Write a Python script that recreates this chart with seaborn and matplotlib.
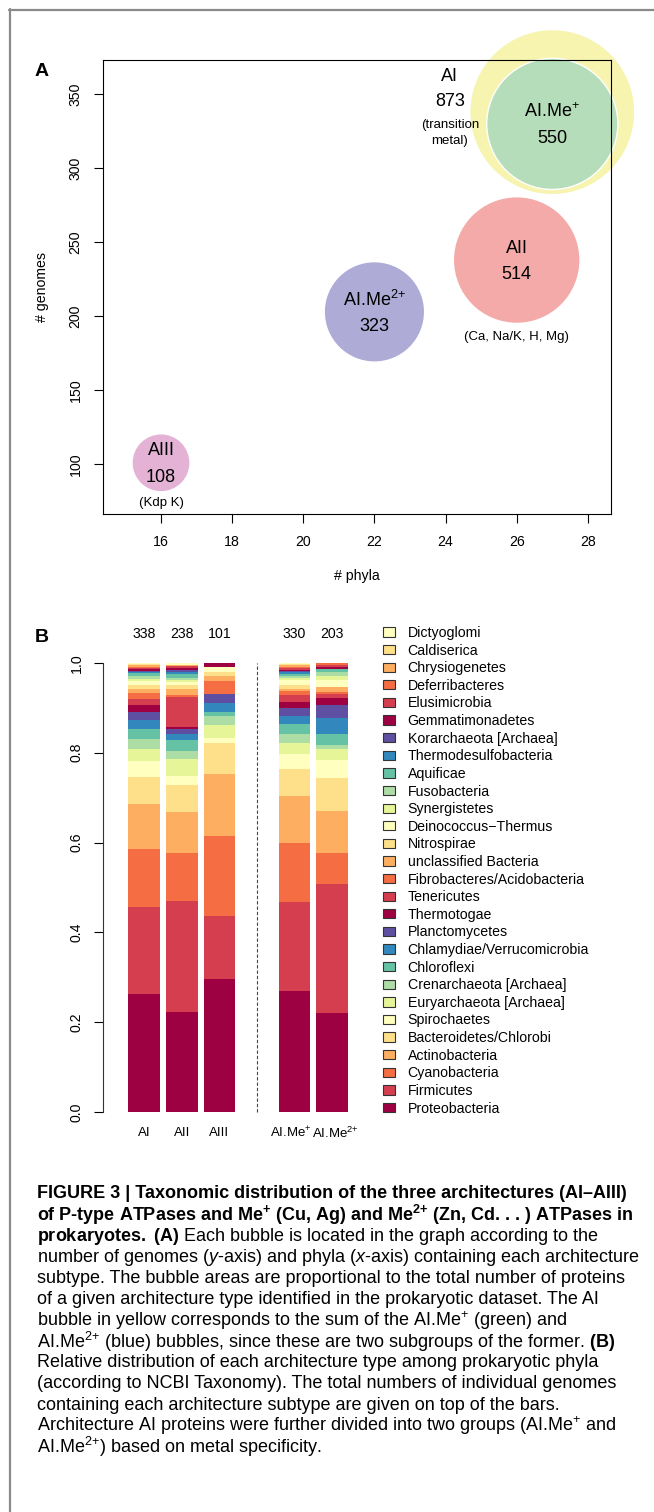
import matplotlib
matplotlib.use("Agg")
import numpy as np
import pandas as pd
import matplotlib.pyplot as plt
import seaborn as sns
from matplotlib.patches import Patch
from matplotlib.lines import Line2D

sns.set_style("ticks")
plt.rcParams["font.family"] = ["Liberation Sans", "DejaVu Sans"]
plt.rcParams["mathtext.fontset"] = "custom"
plt.rcParams["mathtext.rm"] = "Liberation Sans"
plt.rcParams["mathtext.it"] = "Liberation Sans:italic"
plt.rcParams["mathtext.bf"] = "Liberation Sans:bold"
plt.rcParams["text.color"] = "black"
plt.rcParams["axes.labelcolor"] = "black"
plt.rcParams["xtick.color"] = "black"
plt.rcParams["ytick.color"] = "black"
plt.rcParams["axes.edgecolor"] = "black"

# ---------------- panel A: architectures as bubbles ----------------
arch_keys = ["AI", "AI.Me+", "AII", "AI.Me2+", "AIII"]
arch_labels = ["AI", "AI.Me$^{+}$", "AII", "AI.Me$^{2{+}}$", "AIII"]
n_phyla = [27, 27, 26, 22, 16]
n_genomes = [338, 330, 238, 203, 101]
n_proteins = [873, 550, 514, 323, 108]
bubble_colors = ["#F7F4AF", "#B6DDB9", "#F5AAAA", "#AEACD6", "#E3B2D4"]
arch_notes = {"AI": ["(transition", "metal)"], "AII": ["(Ca, Na/K, H, Mg)"], "AIII": ["(Kdp K)"]}

# ---------------- panel B: phylum composition ----------------
phyla = ["Proteobacteria", "Firmicutes", "Cyanobacteria", "Actinobacteria",
         "Bacteroidetes/Chlorobi", "Spirochaetes", "Euryarchaeota [Archaea]",
         "Crenarchaeota [Archaea]", "Chloroflexi", "Chlamydiae/Verrucomicrobia",
         "Planctomycetes", "Thermotogae", "Tenericutes", "Fibrobacteres/Acidobacteria",
         "unclassified Bacteria", "Nitrospirae", "Deinococcus\u2212Thermus",
         "Synergistetes", "Fusobacteria", "Aquificae", "Thermodesulfobacteria",
         "Korarchaeota [Archaea]", "Gemmatimonadetes", "Elusimicrobia",
         "Deferribacteres", "Chrysiogenetes", "Caldiserica", "Dictyoglomi"]
spectral11 = ["#9E0142", "#D53E4F", "#F46D43", "#FDAE61", "#FEE08B", "#FFFFBF",
              "#E6F598", "#ABDDA4", "#66C2A5", "#3288BD", "#5E4FA2"]

bar_names = ["AI", "AII", "AIII", "AI.Me$^{+}$", "AI.Me$^{2{+}}$"]
bar_slots = [0, 1, 2, 4, 5]
genomes_AI = [89, 65, 44, 34, 20, 12, 9, 8, 7, 7, 6, 5, 5, 4, 3, 3, 3, 2, 2, 2, 1, 1, 1, 1, 1, 1, 1, 1]
genomes_AII = [53, 59, 25, 22, 14, 5, 9, 4, 6, 3, 3, 1, 16, 1, 3, 2, 2, 1, 1, 2, 1, 1, 1, 1, 0, 1, 0, 1]
genomes_AIII = [30, 14, 18, 14, 7, 1, 3, 2, 1, 2, 2, 0, 0, 3, 1, 1, 1, 0, 0, 0, 0, 0, 1, 0, 0, 0, 0, 0]
genomes_AIMe1 = [89, 65, 44, 34, 20, 11, 8, 7, 7, 6, 6, 4, 5, 3, 2, 3, 3, 2, 1, 2, 1, 1, 1, 1, 1, 1, 1, 1]
genomes_AIMe2 = [45, 58, 14, 19, 15, 8, 5, 2, 5, 7, 6, 3, 2, 1, 2, 0, 3, 2, 2, 1, 0, 0, 1, 1, 1, 0, 0, 0]
bar_counts = [genomes_AI, genomes_AII, genomes_AIII, genomes_AIMe1, genomes_AIMe2]

caption_lines = [
    (r"FIGURE 3 | Taxonomic distribution of the three architectures (AI–AIII)", "bold"),
    (r"of P-type ATPases and Me$^{\mathbf{+}}$ (Cu, Ag) and Me$^{\mathbf{2{+}}}$ (Zn, Cd. . . ) ATPases in", "bold"),
    (r"$\mathbf{prokaryotes.}$ $\mathbf{(A)}$ Each bubble is located in the graph according to the", "normal"),
    (r"number of genomes ($\mathit{y}$-axis) and phyla ($\mathit{x}$-axis) containing each architecture", "normal"),
    ("subtype. The bubble areas are proportional to the total number of proteins", "normal"),
    ("of a given architecture type identified in the prokaryotic dataset. The AI", "normal"),
    (r"bubble in yellow corresponds to the sum of the AI.Me$^{+}$ (green) and", "normal"),
    (r"AI.Me$^{2{+}}$ (blue) bubbles, since these are two subgroups of the former. $\mathbf{(B)}$", "normal"),
    ("Relative distribution of each architecture type among prokaryotic phyla", "normal"),
    ("(according to NCBI Taxonomy). The total numbers of individual genomes", "normal"),
    ("containing each architecture subtype are given on top of the bars.", "normal"),
    (r"Architecture AI proteins were further divided into two groups (AI.Me$^{+}$ and", "normal"),
    (r"AI.Me$^{2{+}}$) based on metal specificity.", "normal"),
]

# ---------------- layout helpers (pixel based) ----------------
W, H = 654, 1512
fig = plt.figure(figsize=(W / 100, H / 100), dpi=100)
fig.patch.set_facecolor("white")


def fx(px):
    return px / W


def fy(py):
    return 1 - py / H


TICK_FS = 10.2
NAME_FS = 9.5
BUBBLE_FS = 13
NOTE_FS = 9.5

# page frame (top and left rule)
fig.add_artist(Line2D([fx(9), 1], [fy(10), fy(10)], transform=fig.transFigure,
                      color="#8a8a8a", lw=1.6))
fig.add_artist(Line2D([fx(10), fx(10)], [fy(9), 0], transform=fig.transFigure,
                      color="#8a8a8a", lw=1.6))

# ================= panel A =================
axA = fig.add_axes([fx(103.4), fy(514), (610.6 - 103.4) / W, (514 - 60) / H])
dfa = pd.DataFrame({"arch": arch_keys, "phyla": n_phyla,
                    "genomes": n_genomes, "proteins": n_proteins})
AREA_PER_PROTEIN = 16.2  # marker area (pt^2) per protein
sns.scatterplot(data=dfa, x="phyla", y="genomes", hue="arch",
                palette=dict(zip(arch_keys, bubble_colors)),
                size="proteins",
                sizes=(AREA_PER_PROTEIN * min(n_proteins), AREA_PER_PROTEIN * max(n_proteins)),
                size_norm=(min(n_proteins), max(n_proteins)),
                edgecolor="white", linewidth=1.0, alpha=1, legend=False,
                clip_on=False, ax=axA)
axA.set_xlim(14.38, 28.64)
axA.set_ylim(66.4, 373.2)
axA.set_xticks(np.arange(16, 29, 2))
axA.set_yticks(np.arange(100, 351, 50))
axA.tick_params(axis="both", direction="out", length=6.5, width=0.8,
                labelsize=TICK_FS, pad=8.5, left=True, bottom=True)
axA.tick_params(axis="y", labelrotation=90)
for lbl in axA.get_yticklabels():
    lbl.set_va("center")
for sp in axA.spines.values():
    sp.set_visible(True)
    sp.set_linewidth(0.8)
    sp.set_zorder(2.5)
axA.set_xlabel("# phyla", fontsize=TICK_FS)
axA.set_ylabel("# genomes", fontsize=TICK_FS)
axA.xaxis.set_label_coords(0.5, (514 - 576) / 454)
axA.xaxis.label.set_va("center")
axA.yaxis.set_label_coords((41.7 - 103.4) / 507.2, 0.5)
axA.yaxis.label.set_va("center")

for key, lab, x, y, n in zip(arch_keys, arch_labels, n_phyla, n_genomes, n_proteins):
    if key == "AI":
        # the parent architecture is labelled beside its bubble
        dx = -73.7
        axA.annotate(lab, (x, y), xytext=(dx, 25.9), textcoords="offset points",
                     ha="center", va="center", fontsize=BUBBLE_FS, annotation_clip=False)
        axA.annotate(str(n), (x, y), xytext=(dx, 7.5), textcoords="offset points",
                     ha="center", va="center", fontsize=BUBBLE_FS, annotation_clip=False)
        for note, dy in zip(arch_notes[key], [-9.3, -20.8]):
            axA.annotate(note, (x, y), xytext=(dx, dy), textcoords="offset points",
                         ha="center", va="center", fontsize=NOTE_FS, annotation_clip=False)
        continue
    axA.annotate(lab, (x, y), xytext=(0, 8.5), textcoords="offset points",
                 ha="center", va="center", fontsize=BUBBLE_FS, annotation_clip=False)
    axA.annotate(str(n), (x, y), xytext=(0, -10.5), textcoords="offset points",
                 ha="center", va="center", fontsize=BUBBLE_FS, annotation_clip=False)
    if key in arch_notes:
        dy = -55.6 if key == "AII" else -28.9
        axA.annotate(arch_notes[key][0], (x, y), xytext=(0, dy), textcoords="offset points",
                     ha="center", va="center", fontsize=NOTE_FS, annotation_clip=False)

fig.text(fx(41.7), fy(71.7), "A", fontsize=14, fontweight="bold", ha="center", va="center")

# ================= panel B =================
axB = fig.add_axes([fx(103.3), fy(1130), (360 - 103.3) / W, (1130 - 645) / H])
phylum_colors = {p: spectral11[i % 11] for i, p in enumerate(phyla)}
rows = []
for slot, counts in zip(bar_slots, bar_counts):
    total = sum(counts)
    for p, c in zip(phyla, counts):
        rows.append({"slot": slot, "phylum": p, "frac": c / total})
dfb = pd.DataFrame(rows)
sns.histplot(data=dfb, x="slot", weights="frac", hue="phylum",
             hue_order=phyla[::-1], palette=phylum_colors, multiple="stack",
             discrete=True, shrink=0.845, alpha=1, linewidth=0, edgecolor="none",
             legend=False, ax=axB)
axB.set_xlim(-1.088, 5.739)
axB.set_ylim(-0.0394, 1.0394)
axB.set_xlabel("")
axB.set_ylabel("")
axB.set_xticks([])
axB.set_yticks(np.linspace(0, 1, 6))
axB.set_yticklabels([f"{v:.1f}" for v in np.linspace(0, 1, 6)])
axB.tick_params(axis="y", direction="out", length=6.5, width=0.8, labelsize=TICK_FS,
                pad=7.5, left=True, labelrotation=90)
for lbl in axB.get_yticklabels():
    lbl.set_va("center")
for side in ["top", "right", "bottom"]:
    axB.spines[side].set_visible(False)
axB.spines["left"].set_bounds(0, 1)
axB.spines["left"].set_linewidth(0.8)
axB.spines["left"].set_color("#333333")

# separator between the three architectures and the AI subgroups
axB.plot([3, 3], [0, 1], ls=(0, (3, 1.8)), color="#444444", lw=0.8)

# the two subgroup names are long: nudge them apart a little
name_nudge = [0, 0, 0, -2.4, 2.4]
for slot, name, counts, dx in zip(bar_slots, bar_names, bar_counts, name_nudge):
    axB.text(slot, 1.064, str(sum(counts)), ha="center", va="center",
             fontsize=TICK_FS, clip_on=False)
    axB.annotate(name, (slot, -0.046), xytext=(dx, 0), textcoords="offset points",
                 ha="center", va="center", fontsize=NAME_FS, annotation_clip=False)

handles = [Patch(facecolor=phylum_colors[p], edgecolor="#333333", linewidth=0.8, label=p)
           for p in phyla[::-1]]
fig.legend(handles=handles, loc="upper left", bbox_to_anchor=(fx(383.3), fy(626)),
           frameon=False, fontsize=TICK_FS, handlelength=0.84, handleheight=0.63,
           handletextpad=0.87, labelspacing=0.255, borderpad=0, borderaxespad=0)

fig.text(fx(41.7), fy(637), "B", fontsize=14, fontweight="bold", ha="center", va="center")

# ================= caption =================
for i, (line, weight) in enumerate(caption_lines):
    fig.text(fx(37), fy(1194 + 21.1 * i), line, fontsize=13, fontweight=weight,
             ha="left", va="center")

fig.savefig("out.png", dpi=100, facecolor="white")
